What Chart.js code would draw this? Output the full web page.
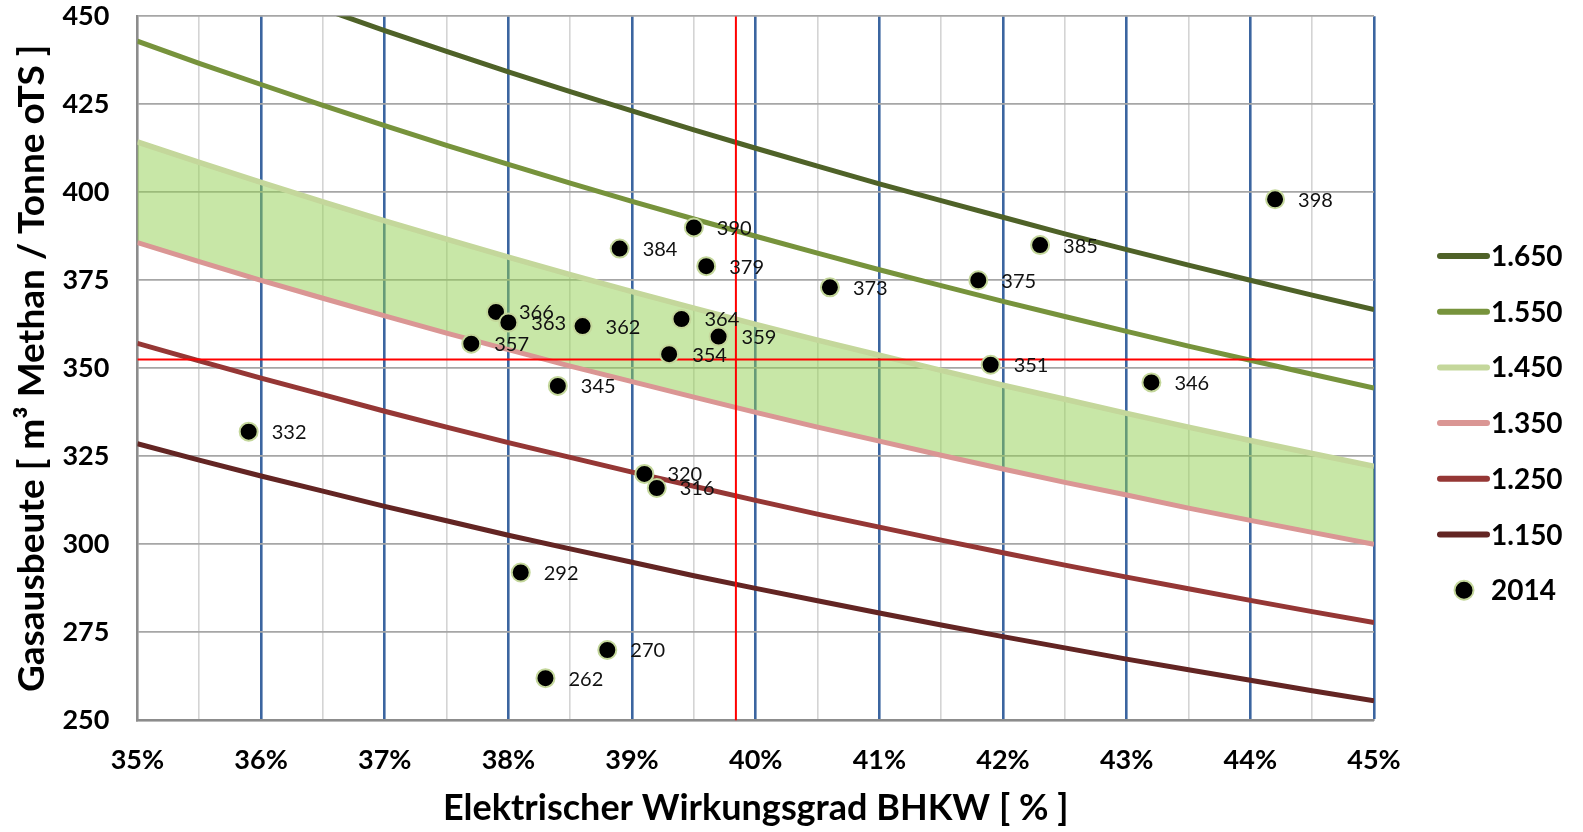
<!DOCTYPE html>
<html lang="de">
<head>
    <meta charset="UTF-8">
    <title>Gasausbeute vs. elektrischer Wirkungsgrad</title>
    <script src="https://cdn.jsdelivr.net/npm/chart.js"></script>
    <style>
        html, body { margin: 0; padding: 0; background: #fff; }
    </style>
</head>
<body>
    <canvas id="myChart" width="1583" height="832"></canvas>
    <script>
        // x positions of the curve points (electrical efficiency, %)
        const efficiency = [35, 35.5, 36, 36.5, 37, 37.5, 38, 38.5, 39, 39.5, 40, 40.5, 41, 41.5, 42, 42.5, 43, 43.5, 44, 44.5, 45];

        // curves
        const c1650 = [471.4, 464.8, 458.3, 452.1, 445.9, 440.0, 434.2, 428.6, 423.1, 417.7, 412.5, 407.4, 402.4, 397.6, 392.9, 388.2, 383.7, 379.3, 375.0, 370.8, 366.7];
        const c1550 = [442.9, 436.6, 430.6, 424.7, 418.9, 413.3, 407.9, 402.6, 397.4, 392.4, 387.5, 382.7, 378.0, 373.5, 369.0, 364.7, 360.5, 356.3, 352.3, 348.3, 344.4];
        const c1450 = [414.3, 408.5, 402.8, 397.3, 391.9, 386.7, 381.6, 376.6, 371.8, 367.1, 362.5, 358.0, 353.7, 349.4, 345.2, 341.2, 337.2, 333.3, 329.5, 325.8, 322.2];
        const c1350 = [385.7, 380.3, 375.0, 369.9, 364.9, 360.0, 355.3, 350.6, 346.2, 341.8, 337.5, 333.3, 329.3, 325.3, 321.4, 317.6, 314.0, 310.3, 306.8, 303.4, 300.0];
        const c1250 = [357.1, 352.1, 347.2, 342.5, 337.8, 333.3, 328.9, 324.7, 320.5, 316.5, 312.5, 308.6, 304.9, 301.2, 297.6, 294.1, 290.7, 287.4, 284.1, 280.9, 277.8];
        const c1150 = [328.6, 323.9, 319.4, 315.1, 310.8, 306.7, 302.6, 298.7, 294.9, 291.1, 287.5, 284.0, 280.5, 277.1, 273.8, 270.6, 267.4, 264.4, 261.4, 258.4, 255.6];

        // plants 2014
        const plantEff = [39.5, 38.9, 39.6, 37.9, 38.0, 37.7, 38.6, 39.4, 39.7, 39.3, 38.4, 39.1, 39.2, 38.1, 38.8, 38.3, 35.9, 44.2, 43.2, 40.6, 41.8, 42.3, 41.9];
        const plantGas = [390, 384, 379, 366, 363, 357, 362, 364, 359, 354, 345, 320, 316, 292, 270, 262, 332, 398, 346, 373, 375, 385, 351];

        // red reference lines
        const refEff = 39.84;
        const refGas = 352.5;

        const toXY = ys => efficiency.map((x, i) => ({ x: x, y: ys[i] }));

        function curve(label, ys, color, width) {
            return {
                label: label,
                data: toXY(ys),
                borderColor: color,
                backgroundColor: color,
                borderWidth: width,
                pointRadius: 0,
                pointHoverRadius: 0,
                tension: 0,
                fill: false,
                order: 2,
                inLegend: true
            };
        }

        const band = curve('1.450', c1450, '#c4d79b', 5.5);
        band.fill = '+1';
        band.backgroundColor = 'rgba(146, 208, 80, 0.5)';

        const datasets = [
            curve('1.650', c1650, '#4f6228', 5),
            curve('1.550', c1550, '#77933c', 5),
            band,
            curve('1.350', c1350, '#da9694', 5),
            curve('1.250', c1250, '#953735', 5),
            curve('1.150', c1150, '#632523', 5),
            {
                label: '2014',
                data: plantEff.map((x, i) => ({ x: x, y: plantGas[i] })),
                showLine: false,
                pointRadius: 9,
                pointHoverRadius: 9,
                pointBackgroundColor: '#000',
                pointBorderColor: '#c4d79b',
                pointBorderWidth: 2,
                borderColor: '#c4d79b',
                backgroundColor: '#000',
                order: 0,
                inLegend: true,
                plants: true
            },
            {
                label: 'ref-h',
                data: [{ x: 35, y: refGas }, { x: 45, y: refGas }],
                borderColor: '#ff0000',
                borderWidth: 2,
                pointRadius: 0,
                order: 1
            },
            {
                label: 'ref-v',
                data: [{ x: refEff, y: 250 }, { x: refEff, y: 450 }],
                borderColor: '#ff0000',
                borderWidth: 2,
                pointRadius: 0,
                order: 1
            }
        ];

        // value labels right of each plant point
        const pointLabels = {
            id: 'pointLabels',
            afterDatasetsDraw(chart) {
                const idx = chart.data.datasets.findIndex(d => d.plants);
                const meta = chart.getDatasetMeta(idx);
                const ctx = chart.ctx;
                ctx.save();
                ctx.font = '20px Lato';
                ctx.fillStyle = '#111';
                ctx.textBaseline = 'middle';
                meta.data.forEach((pt, i) => {
                    ctx.fillText(String(Math.round(plantGas[i])), pt.x + 23, pt.y + 1);
                });
                ctx.restore();
            }
        };

        // legend on the right, drawn like the Excel one
        const sideLegend = {
            id: 'sideLegend',
            afterDraw(chart) {
                const ctx = chart.ctx;
                const x0 = chart.chartArea.right + 66;
                const items = chart.data.datasets.filter(d => d.inLegend);
                ctx.save();
                ctx.font = 'bold 28px Lato';
                ctx.textBaseline = 'middle';
                items.forEach((d, i) => {
                    const y = 256 + i * 55.7;
                    if (d.showLine === false) {
                        ctx.beginPath();
                        ctx.arc(x0 + 24, y, 9.5, 0, Math.PI * 2);
                        ctx.fillStyle = d.pointBackgroundColor;
                        ctx.fill();
                        ctx.lineWidth = 2;
                        ctx.strokeStyle = d.pointBorderColor;
                        ctx.stroke();
                    } else {
                        ctx.beginPath();
                        ctx.moveTo(x0, y);
                        ctx.lineTo(x0 + 47, y);
                        ctx.lineWidth = 6;
                        ctx.lineCap = 'round';
                        ctx.strokeStyle = d.borderColor;
                        ctx.stroke();
                    }
                    ctx.fillStyle = '#000';
                    ctx.fillText(d.label, x0 + 51, y + 1);
                });
                ctx.restore();
            }
        };

        Chart.defaults.font.family = 'Lato';
        Chart.defaults.color = '#000';

        const isMajor = v => Math.abs(v - Math.round(v)) < 1e-6;

        const myChart = new Chart(document.getElementById('myChart').getContext('2d'), {
            type: 'line',
            data: { datasets: datasets },
            options: {
                responsive: false,
                animation: false,
                devicePixelRatio: 1,
                layout: { padding: { left: 1, right: 209, top: 1, bottom: 0 } },
                plugins: {
                    legend: { display: false },
                    tooltip: { enabled: false },
                    filler: { drawTime: 'beforeDatasetsDraw' }
                },
                scales: {
                    x: {
                        type: 'linear',
                        min: 35,
                        max: 45,
                        ticks: {
                            stepSize: 0.5,
                            autoSkip: false,
                            maxRotation: 0,
                            padding: 0,
                            font: { size: 27, weight: 'bold' },
                            callback: v => isMajor(v) ? Math.round(v) + '%' : ''
                        },
                        grid: {
                            drawTicks: true,
                            tickLength: 24,
                            tickColor: 'rgba(0,0,0,0)',
                            color: c => {
                                const v = c.tick ? c.tick.value : 0;
                                if (Math.abs(v - 35) < 1e-6) return '#8c8c8c';
                                return isMajor(v) ? '#3b65a0' : '#d4d4d4';
                            },
                            lineWidth: c => {
                                const v = c.tick ? c.tick.value : 0;
                                return isMajor(v) && Math.abs(v - 35) > 1e-6 ? 2.6 : 1.6;
                            }
                        },
                        border: { color: '#8c8c8c', width: 2 },
                        title: {
                            display: true,
                            text: 'Elektrischer Wirkungsgrad BHKW [ % ]',
                            font: { size: 36, weight: 'bold' },
                            padding: { top: 10, bottom: 2 }
                        }
                    },
                    y: {
                        min: 250,
                        max: 450,
                        ticks: {
                            stepSize: 25,
                            padding: 0,
                            font: { size: 27, weight: 'bold' }
                        },
                        grid: {
                            drawTicks: true,
                            tickLength: 28,
                            tickColor: 'rgba(0,0,0,0)',
                            color: '#a6a6a6',
                            lineWidth: 1.8
                        },
                        border: { color: '#8c8c8c', width: 2 },
                        title: {
                            display: true,
                            text: 'Gasausbeute [ m³ Methan / Tonne oTS ]',
                            font: { size: 37, weight: 'bold' },
                            padding: { top: 9, bottom: 8 }
                        }
                    }
                }
            },
            plugins: [pointLabels, sideLegend]
        });
    </script>
</body>
</html>
